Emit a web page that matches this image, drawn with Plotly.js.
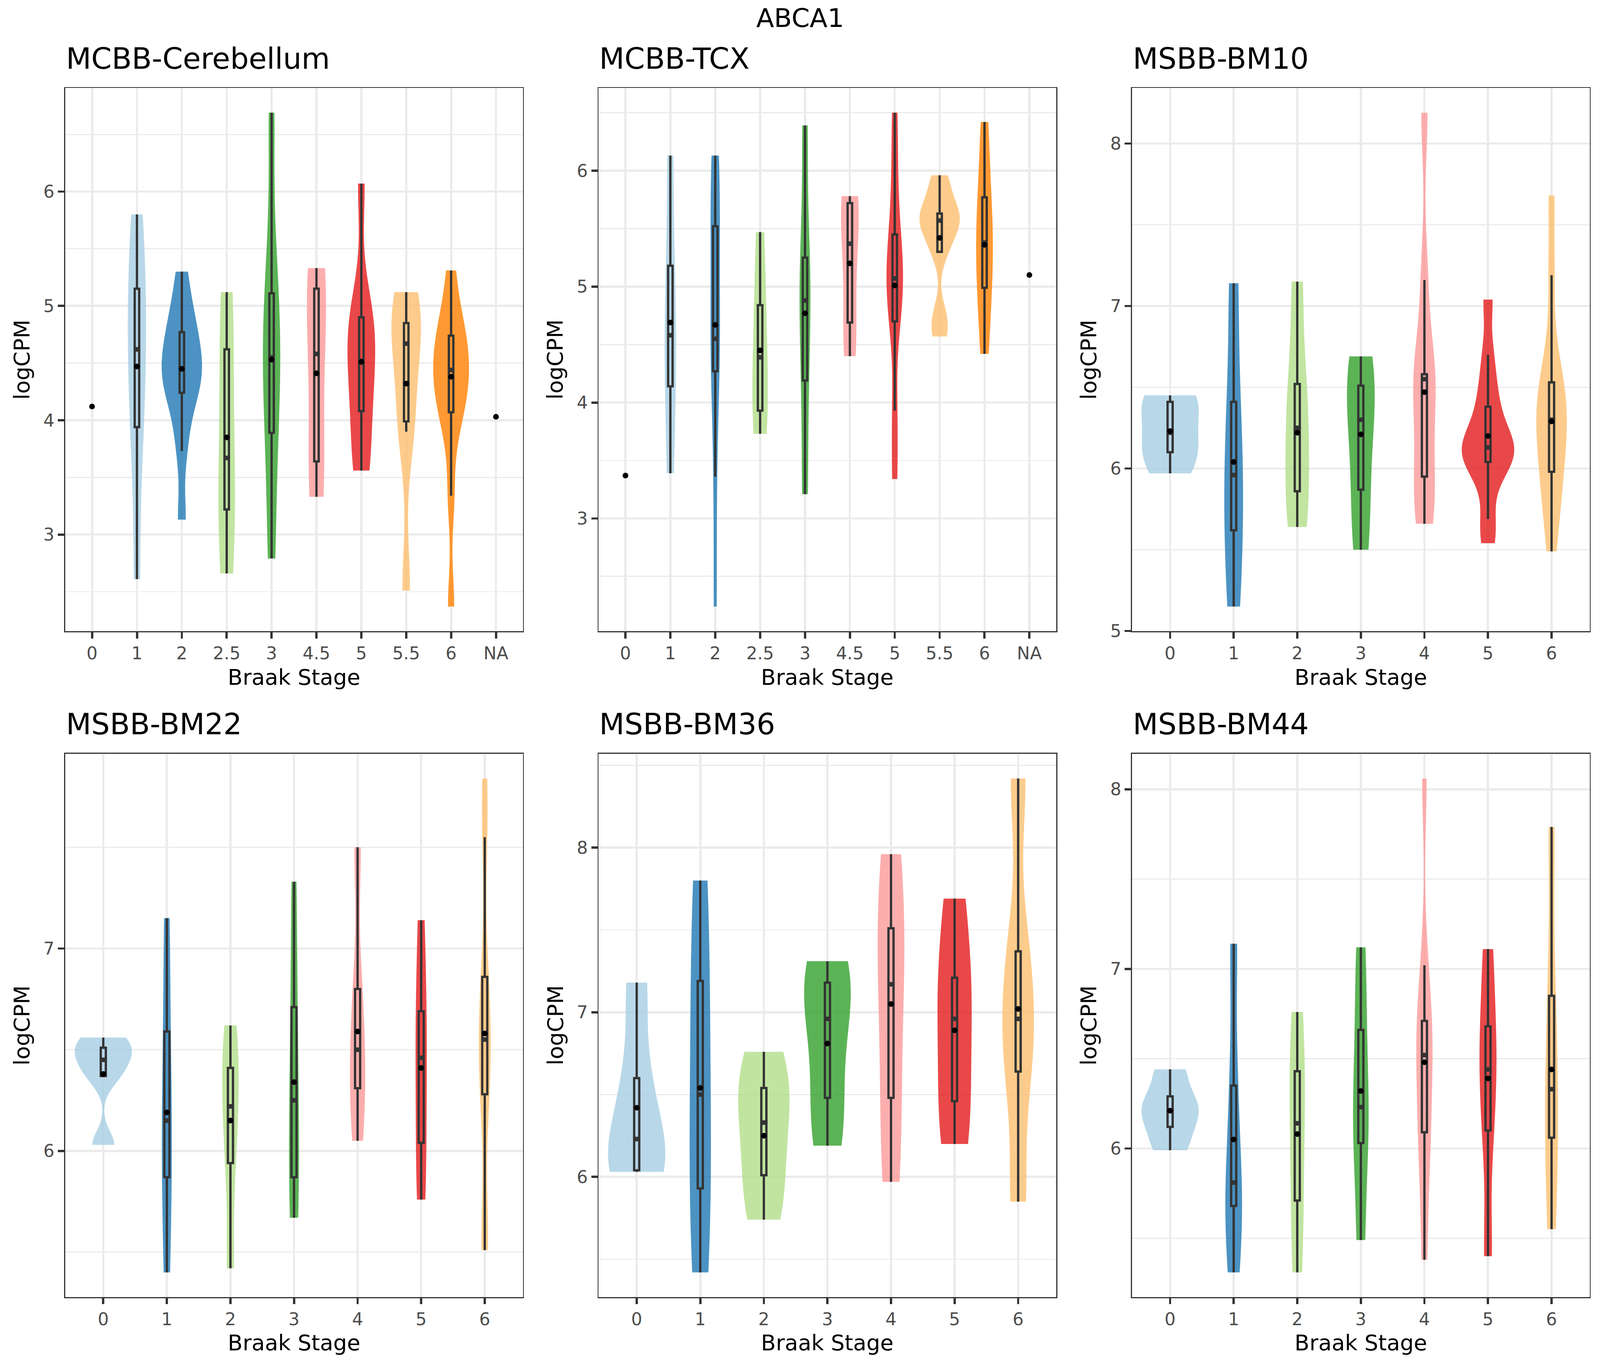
<!DOCTYPE html>
<html>
<head>
<meta charset="utf-8">
<script src="https://cdn.plot.ly/plotly-3.0.1.min.js"></script>
<style>
  html, body { margin: 0; padding: 0; background: #ffffff; overflow: hidden; }
  #chart { width: 100vw; height: 100vh; }
</style>
</head>
<body>
<div id="chart"></div>
<script>
// Braak stage categories
const mcbbCats = ['0', '1', '2', '2.5', '3', '4.5', '5', '5.5', '6', 'NA'];
const msbbCats = ['0', '1', '2', '3', '4', '5', '6'];

// logCPM per sample, one list per Braak stage (read back from the quartiles, whiskers and means)
// MCBB-Cerebellum
const cerebSamples = [
  [4.12],
  [2.61, 3.70, 4.18, 4.62, 4.95, 5.35, 5.80],
  [3.13, 3.73, 4.05, 4.24, 4.33, 4.42, 4.48, 4.60, 4.72, 4.85, 5.00, 5.30],
  [2.66, 3.22, 3.67, 4.62, 5.12],
  [2.79, 3.60, 4.18, 4.55, 4.85, 5.37, 6.69],
  [3.33, 3.64, 4.58, 5.15, 5.33],
  [3.56, 3.65, 4.08, 4.25, 4.52, 4.70, 4.90, 4.95, 6.07],
  [2.51, 3.90, 4.08, 4.67, 4.80, 4.90, 5.12],
  [2.37, 3.34, 3.95, 4.07, 4.25, 4.36, 4.44, 4.50, 4.70, 4.78, 4.90, 5.31],
  [4.03]
];
const cerebMean = [4.12, 4.47, 4.45, 3.85, 4.53, 4.41, 4.51, 4.32, 4.38, 4.03];
const cerebQ1 = [null, 3.94, 4.24, 3.22, 3.89, 3.64, 4.08, 3.99, 4.07, null];
const cerebMedian = [null, 4.62, 4.45, 3.67, 4.55, 4.58, 4.52, 4.67, 4.44, null];
const cerebQ3 = [null, 5.15, 4.77, 4.62, 5.11, 5.15, 4.90, 4.85, 4.74, null];
const cerebLow = [null, 2.61, 3.73, 2.66, 2.79, 3.33, 3.56, 3.90, 3.34, null];
const cerebHigh = [null, 5.80, 5.30, 5.12, 6.69, 5.33, 6.07, 5.12, 5.31, null];

// MCBB-TCX
const tcxSamples = [
  [3.37],
  [3.39, 4.14, 4.58, 5.18, 6.13],
  [2.24, 3.36, 4.27, 4.50, 4.55, 5.30, 5.52, 6.00, 6.13],
  [3.73, 3.93, 4.39, 4.84, 5.47],
  [3.21, 4.19, 4.88, 5.25, 6.39],
  [4.40, 4.69, 5.37, 5.72, 5.78],
  [3.34, 3.93, 4.70, 4.90, 5.07, 5.25, 5.45, 5.95, 6.50],
  [4.57, 4.75, 5.30, 5.45, 5.57, 5.60, 5.63, 5.80, 5.96],
  [4.42, 4.85, 5.13, 5.38, 5.60, 5.94, 6.42],
  [5.10]
];
const tcxMean = [3.37, 4.69, 4.67, 4.45, 4.77, 5.20, 5.01, 5.42, 5.36, 5.10];
const tcxQ1 = [null, 4.14, 4.27, 3.93, 4.19, 4.69, 4.70, 5.30, 4.99, null];
const tcxMedian = [null, 4.58, 4.55, 4.39, 4.88, 5.37, 5.07, 5.57, 5.38, null];
const tcxQ3 = [null, 5.18, 5.52, 4.84, 5.25, 5.72, 5.45, 5.63, 5.77, null];
const tcxLow = [null, 3.39, 3.36, 3.73, 3.21, 4.40, 3.93, 5.30, 4.42, null];
const tcxHigh = [null, 6.13, 6.13, 5.47, 6.39, 5.78, 6.50, 5.96, 6.42, null];

// MSBB-BM10
const bm10Samples = [
  [5.97, 6.10, 6.22, 6.41, 6.45],
  [5.15, 5.62, 5.96, 6.41, 7.14],
  [5.64, 5.86, 6.25, 6.52, 7.15],
  [5.50, 5.87, 6.30, 6.51, 6.69],
  [5.66, 5.75, 5.95, 6.15, 6.55, 6.56, 6.58, 7.16, 8.19],
  [5.54, 5.69, 5.95, 6.04, 6.08, 6.11, 6.13, 6.16, 6.25, 6.38, 6.50, 6.70, 7.04],
  [5.49, 5.72, 5.88, 5.98, 6.10, 6.22, 6.30, 6.36, 6.45, 6.53, 6.70, 7.19, 7.68]
];
const bm10Mean = [6.23, 6.04, 6.22, 6.21, 6.47, 6.20, 6.29];
const bm10Q1 = [6.10, 5.62, 5.86, 5.87, 5.95, 6.04, 5.98];
const bm10Median = [6.22, 5.96, 6.25, 6.30, 6.55, 6.13, 6.30];
const bm10Q3 = [6.41, 6.41, 6.52, 6.51, 6.58, 6.38, 6.53];
const bm10Low = [5.97, 5.15, 5.64, 5.50, 5.66, 5.69, 5.49];
const bm10High = [6.45, 7.14, 7.15, 6.69, 7.16, 6.70, 7.19];

// MSBB-BM22
const bm22Samples = [
  [6.03, 6.37, 6.45, 6.51, 6.56],
  [5.40, 5.87, 6.15, 6.59, 7.15],
  [5.42, 5.94, 6.22, 6.41, 6.62],
  [5.67, 5.87, 6.25, 6.71, 7.33],
  [6.05, 6.31, 6.50, 6.80, 7.50],
  [5.76, 6.04, 6.46, 6.69, 7.14],
  [5.51, 5.60, 6.28, 6.33, 6.55, 6.70, 6.86, 7.55, 7.84]
];
const bm22Mean = [6.38, 6.19, 6.15, 6.34, 6.59, 6.41, 6.58];
const bm22Q1 = [6.37, 5.87, 5.94, 5.87, 6.31, 6.04, 6.28];
const bm22Median = [6.45, 6.15, 6.22, 6.25, 6.50, 6.46, 6.55];
const bm22Q3 = [6.51, 6.59, 6.41, 6.71, 6.80, 6.69, 6.86];
const bm22Low = [6.37, 5.40, 5.42, 5.67, 6.05, 5.76, 5.51];
const bm22High = [6.56, 7.15, 6.62, 7.33, 7.50, 7.14, 7.55];

// MSBB-BM36
const bm36Samples = [
  [6.03, 6.04, 6.23, 6.60, 7.18],
  [5.42, 5.93, 6.50, 7.19, 7.80],
  [5.74, 6.01, 6.33, 6.54, 6.76],
  [6.19, 6.48, 6.96, 7.18, 7.31],
  [5.97, 6.48, 7.17, 7.51, 7.96],
  [6.20, 6.46, 6.96, 7.21, 7.69],
  [5.85, 6.64, 6.96, 7.37, 8.42]
];
const bm36Mean = [6.42, 6.54, 6.25, 6.81, 7.05, 6.89, 7.02];
const bm36Q1 = [6.04, 5.93, 6.01, 6.48, 6.48, 6.46, 6.64];
const bm36Median = [6.23, 6.50, 6.33, 6.96, 7.17, 6.96, 6.96];
const bm36Q3 = [6.60, 7.19, 6.54, 7.18, 7.51, 7.21, 7.37];
const bm36Low = [6.03, 5.42, 5.74, 6.19, 5.97, 6.20, 5.85];
const bm36High = [7.18, 7.80, 6.76, 7.31, 7.96, 7.69, 8.42];

// MSBB-BM44
const bm44Samples = [
  [5.99, 6.12, 6.21, 6.29, 6.44],
  [5.31, 5.68, 5.81, 6.35, 7.14],
  [5.31, 5.71, 6.14, 6.43, 6.76],
  [5.49, 6.03, 6.23, 6.66, 7.12],
  [5.38, 5.80, 6.09, 6.20, 6.52, 6.60, 6.71, 7.02, 8.06],
  [5.40, 6.10, 6.44, 6.68, 7.11],
  [5.55, 6.06, 6.33, 6.85, 7.79]
];
const bm44Mean = [6.21, 6.05, 6.08, 6.32, 6.48, 6.39, 6.44];
const bm44Q1 = [6.12, 5.68, 5.71, 6.03, 6.09, 6.10, 6.06];
const bm44Median = [6.21, 5.81, 6.14, 6.23, 6.52, 6.44, 6.33];
const bm44Q3 = [6.29, 6.35, 6.43, 6.66, 6.71, 6.68, 6.85];
const bm44Low = [5.99, 5.31, 5.31, 5.49, 5.38, 5.40, 5.55];
const bm44High = [6.44, 7.14, 6.76, 7.12, 7.02, 7.11, 7.79];

const panelTitles = ['MCBB-Cerebellum', 'MCBB-TCX', 'MSBB-BM10', 'MSBB-BM22', 'MSBB-BM36', 'MSBB-BM44'];
const mainTitle = 'ABCA1';
const xTitle = 'Braak Stage';
const yTitle = 'logCPM';

// RColorBrewer "Paired"
const paired = ['#A6CEE3', '#1F78B4', '#B2DF8A', '#33A02C', '#FB9A99', '#E31A1C', '#FDBF6F', '#FF7F00'];

const panels = [
  { cats: mcbbCats, samples: cerebSamples, mean: cerebMean, q1: cerebQ1, med: cerebMedian, q3: cerebQ3, lo: cerebLow, hi: cerebHigh, boxW: 0.1 },
  { cats: mcbbCats, samples: tcxSamples, mean: tcxMean, q1: tcxQ1, med: tcxMedian, q3: tcxQ3, lo: tcxLow, hi: tcxHigh, boxW: 0.1 },
  { cats: msbbCats, samples: bm10Samples, mean: bm10Mean, q1: bm10Q1, med: bm10Median, q3: bm10Q3, lo: bm10Low, hi: bm10High, boxW: 0.08 },
  { cats: msbbCats, samples: bm22Samples, mean: bm22Mean, q1: bm22Q1, med: bm22Median, q3: bm22Q3, lo: bm22Low, hi: bm22High, boxW: 0.08 },
  { cats: msbbCats, samples: bm36Samples, mean: bm36Mean, q1: bm36Q1, med: bm36Median, q3: bm36Q3, lo: bm36Low, hi: bm36High, boxW: 0.08 },
  { cats: msbbCats, samples: bm44Samples, mean: bm44Mean, q1: bm44Q1, med: bm44Median, q3: bm44Q3, lo: bm44Low, hi: bm44High, boxW: 0.08 }
];

// Geometry was measured on the 7000 x 3500 original; fixed gaps and text
// scale with k, the panels take whatever room is left in the window.
const REF_W = 7000, REF_H = 3500;
const W = window.innerWidth || REF_W;
const H = window.innerHeight || REF_H;
const k = Math.min(W / REF_W, H / REF_H);
const px = v => v * k;

const leftM = px(285), rightM = px(45), colGap = px(331);
const pw = (W - leftM - rightM - 2 * colGap) / 3;
const colLeft = [0, 1, 2].map(c => leftM + c * (pw + colGap));
const topM = px(385), botM = px(306), rowGap = px(536);
const ph = (H - topM - botM - rowGap) / 2;
const rowTop = [topM, topM + ph + rowGap];
const rowBottom = rowTop.map(t => t + ph);

const FONT = 'DejaVu Sans, Liberation Sans, sans-serif';
const INK = '#333333';
const GRID = '#EBEBEB';

function hexToRgba(hex, a) {
  const n = parseInt(hex.slice(1), 16);
  return `rgba(${(n >> 16) & 255},${(n >> 8) & 255},${n & 255},${a})`;
}

// R's bw.nrd0, so the densities match ggplot's geom_violin
function nrd0(v) {
  const n = v.length;
  const m = v.reduce((a, b) => a + b, 0) / n;
  const sd = Math.sqrt(v.reduce((a, b) => a + (b - m) * (b - m), 0) / (n - 1));
  const s = v.slice().sort((a, b) => a - b);
  const q = p => {
    const h = (n - 1) * p, lo = Math.floor(h);
    return s[lo] + (h - lo) * (s[Math.min(lo + 1, n - 1)] - s[lo]);
  };
  let lo = Math.min(sd, (q(0.75) - q(0.25)) / 1.34);
  if (!(lo > 0)) lo = sd || 1;
  return 0.9 * lo * Math.pow(n, -0.2);
}

const traces = [];
const layout = {
  width: W,
  height: H,
  margin: { l: 0, r: 0, t: 0, b: 0 },
  paper_bgcolor: '#ffffff',
  plot_bgcolor: '#ffffff',
  showlegend: false,
  // violins 0.9 wide, one density scale per panel (ggplot scale = "area")
  violinmode: 'overlay',
  violingap: 0.1,
  violingroupgap: 0,
  boxmode: 'overlay',
  font: { family: FONT, color: '#000000' },
  annotations: [
    {
      text: mainTitle, xref: 'paper', yref: 'paper', x: 0.5, y: 1 - px(78) / H,
      xanchor: 'center', yanchor: 'middle', showarrow: false,
      font: { family: FONT, size: px(114), color: '#000000' }
    }
  ]
};

panels.forEach((p, i) => {
  const col = i % 3, row = Math.floor(i / 3);
  const sfx = i === 0 ? '' : String(i + 1);
  const xa = 'x' + sfx, ya = 'y' + sfx;
  const sg = 'panel' + i;

  // violins, coloured in order over the groups that have a density
  let ci = 0;
  p.samples.forEach((vals, g) => {
    if (vals.length < 2) return;
    const color = paired[ci++];
    traces.push({
      type: 'violin',
      x0: p.cats[g],
      y: vals,
      xaxis: xa, yaxis: ya,
      scalegroup: sg,
      scalemode: 'width',
      spanmode: 'hard',
      bandwidth: nrd0(vals),
      fillcolor: hexToRgba(color, 0.8),
      line: { width: 0, color: hexToRgba(color, 0.8) },
      points: false,
      box: { visible: false },
      meanline: { visible: false },
      hoverinfo: 'skip'
    });
  });

  // boxes from the read quartiles and whisker ends
  const idx = p.q1.map((v, g) => (v === null ? -1 : g)).filter(g => g >= 0);
  traces.push({
    type: 'box',
    x: idx.map(g => p.cats[g]),
    q1: idx.map(g => p.q1[g]),
    median: idx.map(g => p.med[g]),
    q3: idx.map(g => p.q3[g]),
    lowerfence: idx.map(g => p.lo[g]),
    upperfence: idx.map(g => p.hi[g]),
    xaxis: xa, yaxis: ya,
    width: p.boxW,
    whiskerwidth: 0,
    boxpoints: false,
    fillcolor: 'rgba(0,0,0,0)',
    line: { color: INK, width: px(10) },
    hoverinfo: 'skip'
  });

  // ggplot draws the median thicker than the box outline
  const pxPerUnit = pw / (p.cats.length + 0.2);
  traces.push({
    type: 'scatter',
    mode: 'markers',
    x: idx.map(g => p.cats[g]),
    y: idx.map(g => p.med[g]),
    xaxis: xa, yaxis: ya,
    marker: { symbol: 'line-ew', size: p.boxW * pxPerUnit, line: { color: INK, width: px(20) } },
    hoverinfo: 'skip'
  });

  // mean points
  traces.push({
    type: 'scatter',
    mode: 'markers',
    x: p.cats,
    y: p.mean,
    xaxis: xa, yaxis: ya,
    marker: { color: '#000000', size: px(25) },
    hoverinfo: 'skip'
  });

  // y range: data range plus 5% either side, as ggplot does
  const all = [].concat(...p.samples);
  const mn = Math.min(...all), mx = Math.max(...all);
  const pad = (mx - mn) * 0.05;

  const common = {
    showgrid: true,
    gridcolor: GRID,
    gridwidth: px(9.6),
    ticks: 'outside',
    ticklen: px(27),
    tickwidth: px(10),
    tickcolor: INK,
    tickfont: { family: FONT, size: px(76), color: '#4D4D4D' },
    showline: true,
    mirror: true,
    linecolor: INK,
    linewidth: px(4.6),
    zeroline: false,
    fixedrange: true
  };

  const l = colLeft[col], r = l + pw, t = rowTop[row], b = rowBottom[row];
  layout['xaxis' + sfx] = Object.assign({}, common, {
    domain: [l / W, r / W],
    anchor: ya,
    type: 'category',
    categoryorder: 'array',
    categoryarray: p.cats,
    range: [-0.6, p.cats.length - 0.4]
  });
  layout['yaxis' + sfx] = Object.assign({}, common, {
    domain: [1 - b / H, 1 - t / H],
    anchor: xa,
    range: [mn - pad, mx + pad],
    tick0: 0,
    dtick: 1,
    minor: { dtick: 0.5, tick0: 0, showgrid: true, gridcolor: GRID, gridwidth: px(4.8), ticks: '' }
  });

  layout.annotations.push(
    {
      text: panelTitles[i], xref: 'paper', yref: 'paper',
      x: l / W, y: 1 - (t - px(129)) / H,
      xanchor: 'left', yanchor: 'middle', showarrow: false,
      font: { family: FONT, size: px(128), color: '#000000' }
    },
    {
      text: xTitle, xref: 'paper', yref: 'paper',
      x: (l + r) / 2 / W, y: 1 - (b + px(200)) / H,
      xanchor: 'center', yanchor: 'middle', showarrow: false,
      font: { family: FONT, size: px(95), color: '#000000' }
    },
    {
      text: yTitle, xref: 'paper', yref: 'paper',
      x: (l - px(190)) / W, y: 1 - (t + b) / 2 / H, textangle: -90,
      xanchor: 'center', yanchor: 'middle', showarrow: false,
      font: { family: FONT, size: px(95), color: '#000000' }
    }
  );
});

Plotly.newPlot('chart', traces, layout, { displayModeBar: false, staticPlot: true });
</script>
</body>
</html>
